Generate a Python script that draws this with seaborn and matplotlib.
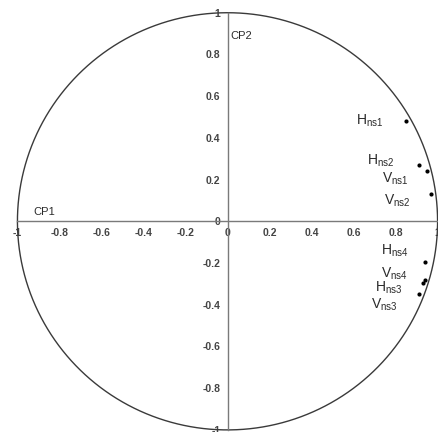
import numpy as np
import pandas as pd
import matplotlib
matplotlib.use("Agg")
import matplotlib.pyplot as plt
import seaborn as sns

# Data
names = ["Hns1", "Hns2", "Vns1", "Vns2", "Hns4", "Vns4", "Hns3", "Vns3"]
cp1 = [0.85, 0.91, 0.95, 0.97, 0.94, 0.94, 0.93, 0.91]
cp2 = [0.48, 0.27, 0.24, 0.13, -0.195, -0.28, -0.295, -0.35]
label_bases = ["H", "H", "V", "V", "H", "V", "H", "V"]
label_subs = ["ns1", "ns2", "ns1", "ns2", "ns4", "ns4", "ns3", "ns3"]
label_x = [0.74, 0.795, 0.86, 0.87, 0.86, 0.86, 0.83, 0.81]
label_y = [0.48, 0.29, 0.205, 0.10, -0.14, -0.25, -0.32, -0.40]
ticks = [-1, -0.8, -0.6, -0.4, -0.2, 0, 0.2, 0.4, 0.6, 0.8, 1]
tick_labels = ["-1", "-0.8", "-0.6", "-0.4", "-0.2", "0", "0.2", "0.4", "0.6", "0.8", "1"]

df = pd.DataFrame({"name": names, "CP1": cp1, "CP2": cp2})

sns.set_style("white")
plt.rcParams["font.family"] = ["Liberation Sans", "DejaVu Sans"]
plt.rcParams["mathtext.fontset"] = "custom"
plt.rcParams["mathtext.rm"] = "Liberation Sans"
plt.rcParams["mathtext.it"] = "Liberation Sans"

fig = plt.figure(figsize=(4.38, 4.32), dpi=100)
ax = fig.add_axes([0, 0, 1, 1])
ax.set_xlim(-1.083, 1.002)
ax.set_ylim(-1.01, 1.061)

# unit circle
theta = np.linspace(0, 2 * np.pi, 400)
ax.plot(np.cos(theta), np.sin(theta), color="#3a3a3a", lw=1.0, clip_on=False, zorder=2)

sns.scatterplot(data=df, x="CP1", y="CP2", ax=ax, color="black", s=9,
                edgecolor="black", linewidth=0, zorder=4, legend=False)

for b, s, lx, ly in zip(label_bases, label_subs, label_x, label_y):
    ax.text(lx, ly, b + r"$_{\mathrm{" + s + r"}}$", ha="right", va="center",
            fontsize=10, color="#2a2a2a")

# axes through origin
for sp in ["top", "right"]:
    ax.spines[sp].set_visible(False)
ax.spines["left"].set_position(("data", 0))
ax.spines["bottom"].set_position(("data", 0))
for sp in ["left", "bottom"]:
    ax.spines[sp].set_color("#7a7a7a")
    ax.spines[sp].set_linewidth(1.0)
ax.spines["left"].set_bounds(-1, 1)
ax.spines["bottom"].set_bounds(-1, 1)

ax.set_xticks(ticks)
ax.set_xticklabels(tick_labels, fontweight="bold")
ax.set_yticks(ticks)
ax.set_yticklabels(tick_labels, fontweight="bold")
ax.tick_params(axis="both", direction="out", length=3, width=0.8, color="#7a7a7a",
               labelsize=7.5, labelcolor="#444444", pad=2)
ax.set_xlabel("")
ax.set_ylabel("")

ax.text(-0.87, 0.045, "CP1", fontsize=8, color="#2a2a2a", ha="center", va="center")
ax.text(0.015, 0.89, "CP2", fontsize=8, color="#2a2a2a", ha="left", va="center")

fig.savefig("out.png", dpi=100)
